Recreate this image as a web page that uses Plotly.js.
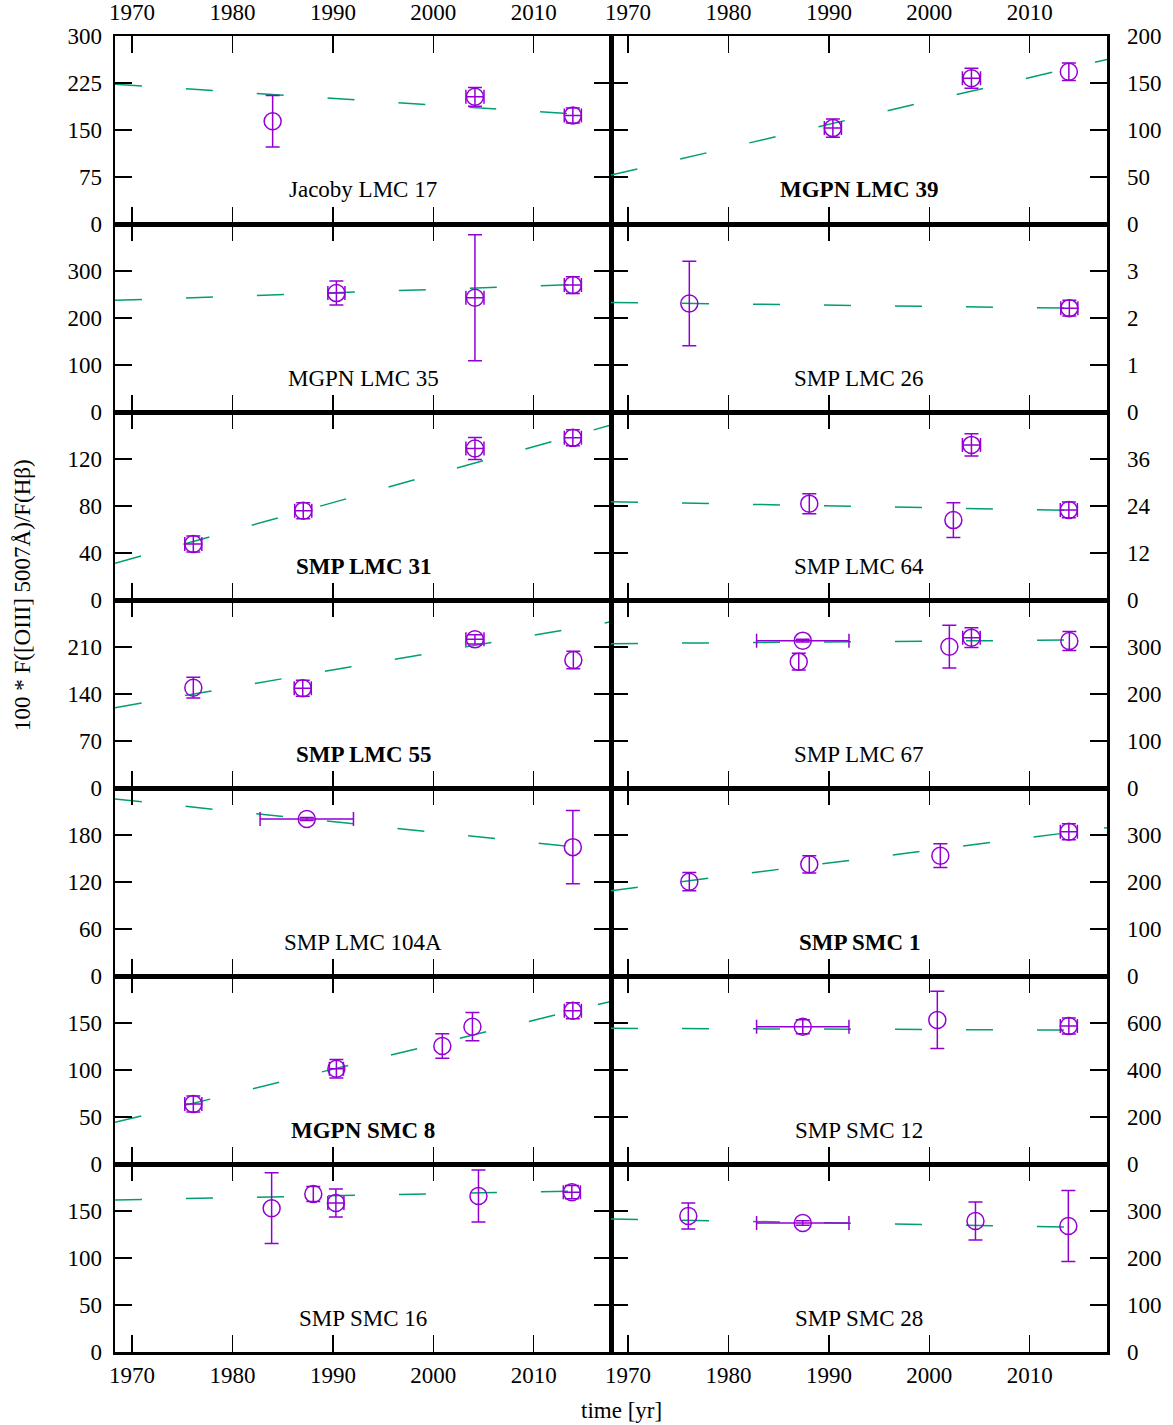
<!DOCTYPE html>
<html><head><meta charset="utf-8">
<script src="https://cdn.plot.ly/plotly-3.0.1.min.js"></script>
<style>html,body{margin:0;padding:0;background:#fff}</style>
</head><body><div id="chart" style="width:1173px;height:1425px"></div>
<script>
// ---------------- DATA ----------------
const panelNames = ['Jacoby LMC 17','MGPN LMC 39','MGPN LMC 35','SMP LMC 26','SMP LMC 31','SMP LMC 64',
  'SMP LMC 55','SMP LMC 67','SMP LMC 104A','SMP SMC 1','MGPN SMC 8','SMP SMC 12','SMP SMC 16','SMP SMC 28'];
const boldPanels = [false,true,false,false,true,false,true,false,false,true,true,false,false,false];
const yTop  = [300,200,400,4,160,48,280,400,240,400,200,800,200,400];
const yStep = [75,50,100,1,40,12,70,100,60,100,50,200,50,100];
const xTickYears = [1970,1980,1990,2000,2010];
const xRange = [1968.3, 2017.7];
// linear fit values at the left and right ends of the time axis
const fitLeft  = [223, 52, 237.6, 2.33, 31.2, 25.1, 119.6, 307.1, 226, 181.6, 44.3, 577.3, 161.7, 283];
const fitRight = [171.6, 175, 273.7, 2.20, 148.9, 22.7, 247.5, 315.5, 160, 315.5, 173, 569.6, 172, 264.6];

const yr_J17 = [1984.0, 2004.15, 2013.9];
const val_J17 = [164, 203, 173];
const ey_J17 = [41, 15, 12];
const ex_J17 = [0, 0.9, 0.85];

const yr_L39 = [1990.4, 2004.2, 2013.9];
const val_L39 = [102, 155, 162];
const ey_L39 = [9.7, 10.6, 9.4];
const ex_L39 = [0.85, 0.9, 0];

const yr_L35 = [1990.35, 2004.15, 2013.9];
const val_L35 = [253, 243, 270];
const ey_L35 = [25.5, 134, 18];
const ex_L35 = [0.85, 0.9, 0.85];

const yr_L26 = [1976.1, 2013.95];
const val_L26 = [2.31, 2.21];
const ey_L26 = [0.9, 0.17];
const ex_L26 = [0, 0.85];

const yr_L31 = [1976.1, 1987.05, 2004.15, 2013.9];
const val_L31 = [47.7, 76, 129, 138];
const ey_L31 = [6.8, 6.8, 9.4, 6.8];
const ex_L31 = [0.85, 0.85, 0.9, 0.85];

const yr_L64 = [1988.05, 2004.2, 2002.4, 2013.9];
const val_L64 = [24.6, 39.6, 20.4, 23.0];
const ey_L64 = [2.55, 2.85, 4.45, 2.0];
const ex_L64 = [0, 0.9, 0, 0.85];

const yr_L55 = [1976.1, 1987.0, 2004.15, 2013.95];
const val_L55 = [149.4, 148.5, 221.4, 190.6];
const ey_L55 = [15.4, 11.9, 7, 12.9];
const ex_L55 = [0, 0.85, 0.9, 0];

const yr_L67 = [1987.4, 1987.0, 2002.0, 2004.2, 2013.95];
const val_L67 = [313.5, 268.8, 300.7, 319.9, 312.8];
const ey_L67 = [3, 17.7, 45.4, 21, 20];
const ex_L67 = [4.6, 0, 0, 0.87, 0];

const yr_L104 = [1987.4, 2013.9];
const val_L104 = [200.4, 164.5];
const ey_L104 = [2, 46.8];
const ex_L104 = [4.65, 0];

const yr_S1 = [1976.1, 1988.05, 2001.1, 2013.9];
const val_S1 = [200.7, 237.6, 256, 307];
const ey_S1 = [19.5, 18.4, 25.2, 17];
const ex_S1 = [0, 0, 0, 0.85];

const yr_S8 = [1976.1, 1990.35, 2000.9, 2003.9, 2013.9];
const val_S8 = [63.8, 101.4, 125.5, 146.1, 163.1];
const ey_S8 = [8.5, 9.8, 13, 15.1, 8.5];
const ex_S8 = [0.85, 0.7, 0, 0, 0.85];

const yr_S12 = [1987.4, 2000.8, 2013.9];
const val_S12 = [584, 613, 587];
const ey_S12 = [30, 122, 34];
const ex_S12 = [4.6, 0, 0.85];

const yr_S16 = [1983.9, 1988.05, 1990.3, 2004.5, 2013.8];
const val_S16 = [153, 168, 158.5, 166, 170];
const ey_S16 = [37.7, 8, 14.9, 27.7, 7];
const ex_S16 = [0, 0, 0.8, 0, 0.85];

const yr_S28 = [1976.0, 1987.4, 2004.6, 2013.85];
const val_S28 = [289.4, 274.5, 278.7, 268];
const ey_S28 = [27.7, 5, 40.4, 75.5];
const ex_S28 = [0, 4.6, 0, 0];

const panelYears  = [yr_J17, yr_L39, yr_L35, yr_L26, yr_L31, yr_L64, yr_L55, yr_L67, yr_L104, yr_S1, yr_S8, yr_S12, yr_S16, yr_S28];
const panelVals   = [val_J17, val_L39, val_L35, val_L26, val_L31, val_L64, val_L55, val_L67, val_L104, val_S1, val_S8, val_S12, val_S16, val_S28];
const panelErrY   = [ey_J17, ey_L39, ey_L35, ey_L26, ey_L31, ey_L64, ey_L55, ey_L67, ey_L104, ey_S1, ey_S8, ey_S12, ey_S16, ey_S28];
const panelErrX   = [ex_J17, ex_L39, ex_L35, ex_L26, ex_L31, ex_L64, ex_L55, ex_L67, ex_L104, ex_S1, ex_S8, ex_S12, ex_S16, ex_S28];

// ---------------- LAYOUT ----------------
const W = 1173, H = 1425;
const colX = [[115, 611], [611, 1107]];
const rowTop0 = 36, rowH = 188, nRows = 7;
const FONT = 'Liberation Serif, Times New Roman, serif';
const FS = 23;
const PURPLE = '#9400d3', GREEN = '#009e73';

const traces = [];
const layout = {
  width: W, height: H, margin: {l: 0, r: 0, t: 0, b: 0},
  paper_bgcolor: '#fff', plot_bgcolor: '#fff', showlegend: false,
  font: {family: FONT, size: FS, color: '#000'},
  annotations: []
};

for (let i = 0; i < panelNames.length; i++) {
  const row = Math.floor(i / 2), col = i % 2;
  const sfx = i === 0 ? '' : String(i + 1);
  const xa = 'x' + sfx, ya = 'y' + sfx;
  const top = rowTop0 + row * rowH, bot = top + rowH;
  const xd = [colX[col][0] / W, colX[col][1] / W];
  const yd = [1 - bot / H, 1 - top / H];

  traces.push({
    x: xRange.slice(), y: [fitLeft[i], fitRight[i]], xaxis: xa, yaxis: ya,
    mode: 'lines', line: {color: GREEN, width: 1.5, dash: '27px,44px'}, hoverinfo: 'skip'
  });
  traces.push({
    x: panelYears[i], y: panelVals[i], xaxis: xa, yaxis: ya, mode: 'markers',
    marker: {symbol: 'circle-open', size: 17, color: PURPLE, line: {width: 1.5, color: PURPLE}},
    error_y: {type: 'data', array: panelErrY[i], color: PURPLE, thickness: 1.5, width: 7},
    error_x: {type: 'data', array: panelErrX[i].map(v => v > 0 ? v : NaN), color: PURPLE, thickness: 1.5, width: 7}
  });

  const yt = [];
  for (let v = 0; v < yTop[i] - 1e-9; v += yStep[i]) yt.push(+v.toFixed(6));
  if (row === 0) yt.push(yTop[i]);

  const common = {
    ticks: 'inside', ticklen: 17, tickwidth: 1.5, tickcolor: '#000',
    showline: true, linewidth: 2.5, linecolor: '#000', mirror: 'allticks',
    showgrid: false, zeroline: false, fixedrange: true,
    tickfont: {family: FONT, size: FS, color: '#000'}
  };
  layout['xaxis' + sfx] = Object.assign({}, common, {
    domain: xd, anchor: ya, range: xRange, tickmode: 'array', tickvals: xTickYears,
    showticklabels: row === 0 || row === nRows - 1, side: row === 0 ? 'top' : 'bottom',
    ticklabelstandoff: row === 0 ? 4 : 1
  });
  layout['yaxis' + sfx] = Object.assign({}, common, {
    domain: yd, anchor: xa, range: [0, yTop[i]], tickmode: 'array', tickvals: yt,
    side: col === 0 ? 'left' : 'right', ticklabelstandoff: col === 0 ? 6 : 13
  });

  const label = boldPanels[i] ? '<b>' + panelNames[i] + '</b>' : panelNames[i];
  layout.annotations.push({
    xref: 'paper', yref: 'paper', x: (xd[0] + xd[1]) / 2, y: 1 - (top + 154) / H,
    xanchor: 'center', yanchor: 'middle', showarrow: false, text: label,
    font: {family: FONT, size: FS, color: '#000'}
  });
}

layout.annotations.push({
  xref: 'paper', yref: 'paper', x: 22 / W, y: 1 - 595 / H, textangle: -90,
  xanchor: 'center', yanchor: 'middle', showarrow: false,
  text: '100 * F([OIII] 5007Å)/F(Hβ)', font: {family: FONT, size: FS, color: '#000'}
});
layout.annotations.push({
  xref: 'paper', yref: 'paper', x: 621 / W, y: 1 - 1410 / H,
  xanchor: 'center', yanchor: 'middle', showarrow: false,
  text: 'time [yr]', font: {family: FONT, size: FS, color: '#000'}
});

Plotly.newPlot('chart', traces, layout, {staticPlot: true, displayModeBar: false});
</script></body></html>
